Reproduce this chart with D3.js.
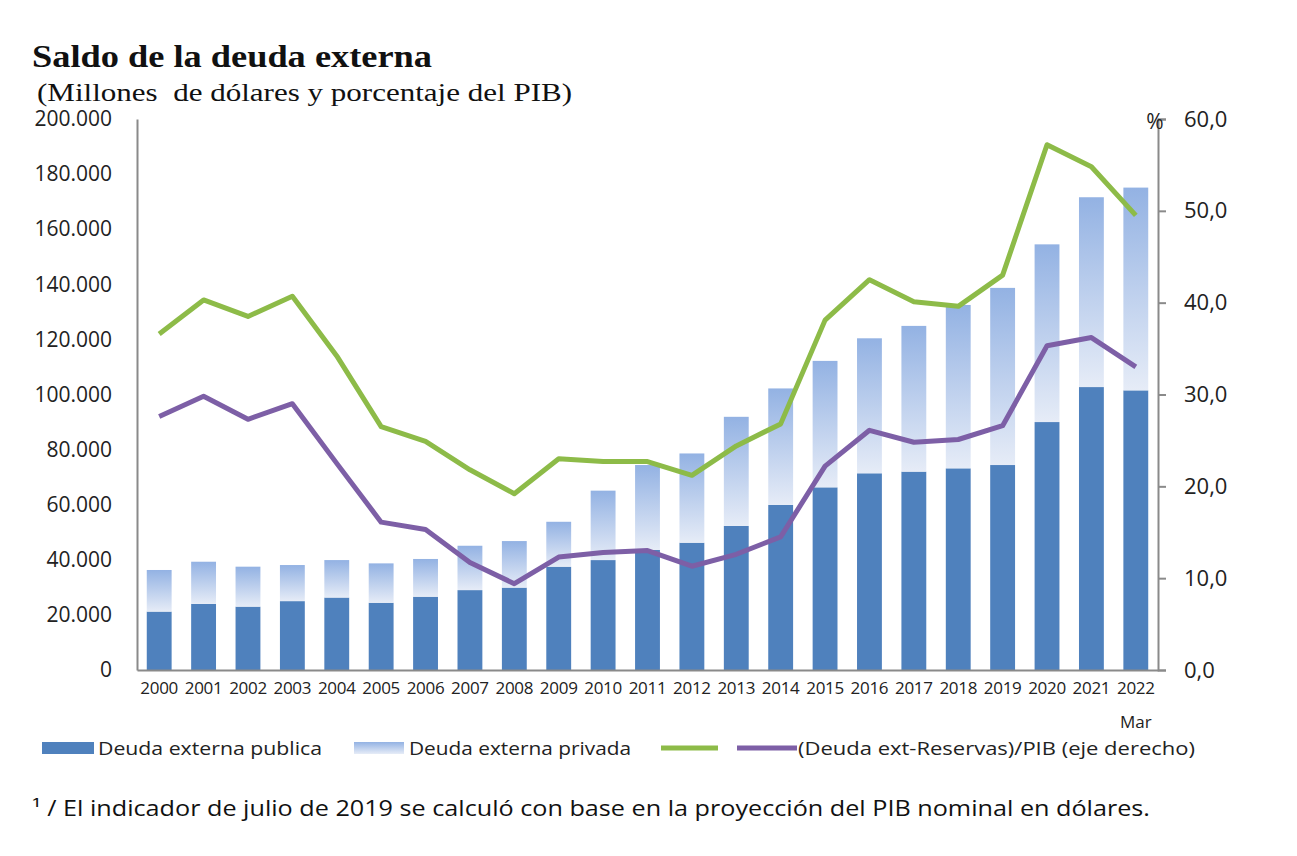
<!DOCTYPE html>
<html><head><meta charset="utf-8">
<script src="https://cdn.jsdelivr.net/npm/d3@7"></script>
<style>
html,body{margin:0;padding:0;background:#fff;}
svg{display:block;}
</style></head>
<body>
<svg id="c" width="1297" height="856"></svg>
<script>
const years = ["2000","2001","2002","2003","2004","2005","2006","2007","2008","2009","2010","2011","2012","2013","2014","2015","2016","2017","2018","2019","2020","2021","2022"];
const yearSub = {"2022":"Mar"};
const publica = [21200,24000,23000,25000,26300,24400,26600,29000,29900,37500,39900,43600,46200,52300,59900,66300,71400,72000,73200,74400,90000,102700,101500];
const privada = [15100,15300,14500,13100,13600,14300,13700,16100,16900,16300,25200,30800,32400,39600,42300,45900,49000,52900,59300,64300,64500,68900,73600];
const deudaPIB = [36.6,40.3,38.5,40.7,34.2,26.5,24.9,21.8,19.2,23.0,22.7,22.7,21.2,24.4,26.8,38.1,42.5,40.1,39.6,43.0,57.2,54.8,49.5];
const netaPIB = [27.6,29.8,27.3,29.0,22.5,16.1,15.3,11.7,9.4,12.3,12.8,13.0,11.3,12.6,14.5,22.2,26.1,24.8,25.1,26.6,35.3,36.2,33.0];
const leftTicks = [0,20000,40000,60000,80000,100000,120000,140000,160000,180000,200000];
const rightTicks = [0,10,20,30,40,50,60];
const legendLabels = ["Deuda externa publica","Deuda externa privada","","(Deuda ext-Reservas)/PIB (eje derecho)"];
const title = "Saldo de la deuda externa";
const subtitle = "(Millones\u00a0 de dólares y porcentaje del PIB)";
const footnote = "¹ / El indicador de julio de 2019 se calculó con base en la proyección del PIB nominal en dólares.";

const svg = d3.select("#c");
const L = 137, R = 1158, T = 119, B = 670;
const loc = d3.formatLocale({decimal:",", thousands:".", grouping:[3], currency:["$",""]});
const fL = loc.format(",");
const fR = loc.format(",.1f");

const x = d3.scaleBand().domain(years).range([L,R]).paddingInner(0.44).paddingOuter(0.22);
const yL = d3.scaleLinear().domain([0,200000]).range([B,T]);
const yR = d3.scaleLinear().domain([0,60]).range([B,T]);

const defs = svg.append("defs");
const g = defs.append("linearGradient").attr("id","grad").attr("x1",0).attr("y1",0).attr("x2",0).attr("y2",1);
g.append("stop").attr("offset","0%").attr("stop-color","#93b2e3");
g.append("stop").attr("offset","100%").attr("stop-color","#e6ecf7");

// title
svg.append("text").attr("x",32).attr("y",67).attr("font-family","Liberation Serif").attr("font-weight","bold").attr("font-size",32)
  .attr("textLength",400).attr("lengthAdjust","spacingAndGlyphs").attr("fill","#111").text(title);
svg.append("text").attr("x",37).attr("y",101).attr("font-family","Liberation Serif").attr("font-size",26)
  .attr("textLength",535).attr("lengthAdjust","spacingAndGlyphs").attr("fill","#111").text(subtitle);

// bars
const bars = svg.append("g");
years.forEach((yr,i)=>{
  bars.append("rect").attr("x",x(yr)).attr("width",x.bandwidth())
    .attr("y",yL(publica[i])).attr("height",yL(0)-yL(publica[i])).attr("fill","#4f81bd");
  bars.append("rect").attr("x",x(yr)).attr("width",x.bandwidth())
    .attr("y",yL(publica[i]+privada[i])).attr("height",yL(publica[i])-yL(publica[i]+privada[i])).attr("fill","url(#grad)");
});

// axes
const axisColor = "#8a8a8a";
const gl = svg.append("g").attr("transform",`translate(${L},0)`).call(d3.axisLeft(yL).tickValues(leftTicks).tickFormat(fL).tickSize(0).tickPadding(25));
gl.select(".domain").attr("stroke",axisColor).attr("stroke-width",2);
gl.selectAll("text").attr("font-family","Open Sans").attr("font-size",21).attr("fill","#222");

const gr = svg.append("g").attr("transform",`translate(${R},0)`).call(d3.axisRight(yR).tickValues(rightTicks).tickFormat(fR).tickSize(8).tickPadding(18));
gr.select(".domain").attr("stroke",axisColor).attr("stroke-width",2);
gr.selectAll(".tick line").attr("stroke",axisColor).attr("stroke-width",2);
gr.selectAll("text").attr("font-family","Open Sans").attr("font-size",22).attr("fill","#222");

const gb = svg.append("g").attr("transform",`translate(0,${B})`).call(d3.axisBottom(x).tickSize(0).tickPadding(12).tickSizeOuter(0));
gb.select(".domain").attr("stroke",axisColor).attr("stroke-width",2);
gb.selectAll("text").attr("font-family","Open Sans").attr("font-size",17).attr("fill","#222").attr("letter-spacing","-0.3");
gb.selectAll(".tick").filter(d=>yearSub[d]).append("text")
  .attr("y",58).attr("fill","#222").attr("font-family","Open Sans").attr("font-size",17).attr("text-anchor","middle").text(d=>yearSub[d]);

svg.append("text").attr("x",R-3).attr("y",129).attr("text-anchor","middle").attr("font-family","Open Sans").attr("font-size",21).attr("fill","#222").text("%");

// lines
const line = d3.line().x((d,i)=>x(years[i])+x.bandwidth()/2).y(d=>yR(d));
svg.append("path").datum(deudaPIB).attr("d",line).attr("fill","none").attr("stroke","#8dbb48").attr("stroke-width",5).attr("stroke-linejoin","round");
svg.append("path").datum(netaPIB).attr("d",line).attr("fill","none").attr("stroke","#7d5fa6").attr("stroke-width",5).attr("stroke-linejoin","round");

// legend
const lg = svg.append("g").attr("font-family","Open Sans").attr("font-size",19).attr("fill","#222");
lg.append("rect").attr("x",42).attr("y",742).attr("width",52).attr("height",12).attr("fill","#4f81bd");
lg.append("text").attr("x",98).attr("y",755).attr("textLength",224).attr("lengthAdjust","spacingAndGlyphs").text(legendLabels[0]);
lg.append("rect").attr("x",354).attr("y",742).attr("width",50).attr("height",12).attr("fill","url(#grad)");
lg.append("text").attr("x",409).attr("y",755).attr("textLength",222).attr("lengthAdjust","spacingAndGlyphs").text(legendLabels[1]);
lg.append("line").attr("x1",661).attr("x2",718).attr("y1",748).attr("y2",748).attr("stroke","#8dbb48").attr("stroke-width",5);
lg.append("text").attr("x",722).attr("y",755).text(legendLabels[2]);
lg.append("line").attr("x1",737).attr("x2",797).attr("y1",748).attr("y2",748).attr("stroke","#7d5fa6").attr("stroke-width",5);
lg.append("text").attr("x",798).attr("y",755).attr("textLength",397).attr("lengthAdjust","spacingAndGlyphs").text(legendLabels[3]);

svg.append("text").attr("x",32).attr("y",816).attr("font-family","Open Sans").attr("font-size",21)
  .attr("textLength",1118).attr("lengthAdjust","spacingAndGlyphs").attr("fill","#111").text(footnote);
</script>
</body></html>
